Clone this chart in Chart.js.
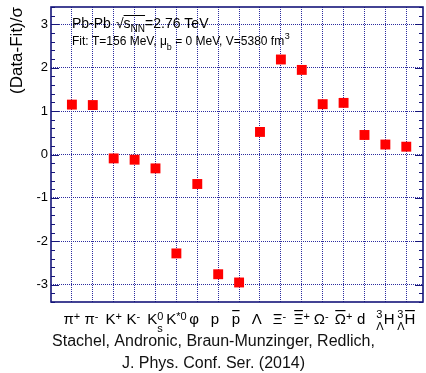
<!DOCTYPE html>
<html>
<head>
<meta charset="utf-8">
<title>Thermal fit deviations</title>
<script src="https://cdn.jsdelivr.net/npm/chart.js@4.4.0/dist/chart.umd.min.js"></script>
<style>
  html, body { margin: 0; padding: 0; background: #fff; overflow: hidden; }
  canvas { display: block; }
</style>
</head>
<body>
<canvas id="fitChart" width="430" height="375"></canvas>
<script>
// hadron species on the x axis (base symbol plus scripts and antiparticle bar)
const species       = ['π', 'π', 'K', 'K', 'K', 'K', 'φ', 'p', 'p', 'Λ', 'Ξ', 'Ξ', 'Ω', 'Ω', 'd', 'H', 'H'];
const speciesSup    = ['+', '-', '+', '-', '0', '*0', '', '', '', '', '-', '+', '-', '+', '', '', ''];
const speciesSub    = ['', '', '', '', 's', '', '', '', '', '', '', '', '', '', '', '', ''];
const speciesBar    = [false, false, false, false, false, false, false, false, true, false, false, true, false, true, false, false, true];
const speciesPreSup = ['', '', '', '', '', '', '', '', '', '', '', '', '', '', '', '3', '3'];
const speciesPreSub = ['', '', '', '', '', '', '', '', '', '', '', '', '', '', '', 'Λ', 'Λ'];

// (data - fit) / sigma for each species
const deviation = [1.15, 1.14, -0.09, -0.12, -0.32, -2.28, -0.68, -2.76, -2.95, 0.52, 2.19, 1.95, 1.16, 1.19, 0.45, 0.23, 0.18];

const yTicks = [-3, -2, -1, 0, 1, 2, 3];

const FAMILY = '"Liberation Sans", Arial, sans-serif';
const NAVY = '#15157a';
const GRID = '#2c2ca0';

function drawSpecies(ctx, i, cx, base) {
  const main = '15px ' + FAMILY;
  const small = '11px ' + FAMILY;
  ctx.font = small;
  const preW = Math.max(ctx.measureText(speciesPreSup[i]).width, ctx.measureText(speciesPreSub[i]).width);
  const slot = preW > 0 ? 0 : ctx.measureText('+').width;
  const postW = Math.max(ctx.measureText(speciesSup[i]).width, ctx.measureText(speciesSub[i]).width, slot);
  ctx.font = main;
  const baseW = ctx.measureText(species[i]).width;
  let left = cx - (preW + baseW + postW) / 2;

  ctx.font = small;
  ctx.fillText(speciesPreSup[i], left, base - 6);
  ctx.fillText(speciesPreSub[i], left, base + 6);
  left += preW;

  ctx.font = main;
  ctx.fillText(species[i], left, base);
  if (speciesBar[i]) ctx.fillRect(left + 0.5, base - 14, baseW - 1, 1.2);
  left += baseW;

  ctx.font = small;
  ctx.fillText(speciesSup[i], left, base - 4);
  ctx.fillText(speciesSub[i], left, base + 8);
}

const decorations = {
  id: 'decorations',
  afterDraw(chart) {
    const { ctx, chartArea: a, scales: { x, y } } = chart;
    ctx.save();

    // inward ticks on both vertical sides, minor every 0.2
    ctx.strokeStyle = NAVY;
    ctx.lineWidth = 1.2;
    ctx.beginPath();
    for (let k = Math.ceil(y.min * 5); k <= Math.floor(y.max * 5); k++) {
      const py = Math.round(y.getPixelForValue(k / 5)) + 0.5;
      const len = k % 5 === 0 ? 8 : 4;
      ctx.moveTo(a.left, py); ctx.lineTo(a.left + len, py);
      ctx.moveTo(a.right, py); ctx.lineTo(a.right - len, py);
    }
    ctx.stroke();

    // frame
    ctx.lineWidth = 1.6;
    ctx.strokeRect(a.left, a.top, a.right - a.left, a.bottom - a.top);

    // species labels under the axis
    ctx.fillStyle = '#000';
    ctx.textAlign = 'left';
    ctx.textBaseline = 'alphabetic';
    species.forEach((_, i) => drawSpecies(ctx, i, x.getPixelForValue(i + 1), a.bottom + 22));

    // system and fit parameters
    let tx = a.left + 21;
    let ty = a.top + 20.5;
    ctx.font = '14px ' + FAMILY;
    ctx.fillText('Pb-Pb', tx, ty);
    tx += ctx.measureText('Pb-Pb').width + 5;
    ctx.fillText('√', tx, ty);
    tx += ctx.measureText('√').width;
    const barStart = tx;
    ctx.fillText('s', tx, ty);
    tx += ctx.measureText('s').width;
    ctx.font = '10px ' + FAMILY;
    ctx.fillText('NN', tx, ty + 4);
    tx += ctx.measureText('NN').width;
    ctx.fillRect(barStart, ty - 12.5, tx - barStart, 1);
    ctx.font = '14px ' + FAMILY;
    ctx.fillText('=2.76 TeV', tx, ty);

    tx = a.left + 21;
    ty = a.top + 37.5;
    ctx.font = '12px ' + FAMILY;
    ctx.fillText('Fit: T=156 MeV, μ', tx, ty);
    tx += ctx.measureText('Fit: T=156 MeV, μ').width;
    ctx.font = '9px ' + FAMILY;
    ctx.fillText('b', tx, ty + 5);
    tx += ctx.measureText('b').width;
    ctx.font = '12px ' + FAMILY;
    ctx.fillText(' = 0 MeV, V=5380 fm', tx, ty);
    tx += ctx.measureText(' = 0 MeV, V=5380 fm').width;
    ctx.font = '9px ' + FAMILY;
    ctx.fillText('3', tx + 0.5, ty - 6);

    ctx.restore();
  }
};

// keep the plot frame exactly where the axes put it
function noPadding(s) {
  s.paddingTop = 0;
  s.paddingBottom = 0;
  s.paddingLeft = 0;
  s.paddingRight = 0;
}

const ctx = document.getElementById('fitChart').getContext('2d');
new Chart(ctx, {
  type: 'scatter',
  data: {
    datasets: [{
      data: deviation.map((v, i) => ({ x: i + 1, y: v })),
      pointStyle: 'rect',
      pointRadius: 7,
      pointHoverRadius: 7,
      backgroundColor: '#ff0000',
      borderWidth: 0
    }]
  },
  options: {
    responsive: false,
    animation: false,
    events: [],
    layout: { padding: { top: 6, right: 3, left: 0, bottom: 0 } },
    plugins: {
      legend: { display: false },
      tooltip: { enabled: false },
      title: {
        display: true,
        position: 'bottom',
        text: ['Stachel, Andronic, Braun-Munzinger, Redlich,', 'J. Phys. Conf. Ser. (2014)'],
        color: '#111',
        font: { family: FAMILY, size: 16, weight: 'normal', lineHeight: '22px' },
        padding: { top: 0, bottom: 0 }
      }
    },
    scales: {
      x: {
        type: 'linear',
        min: 0,
        max: 17.8,
        afterBuildTicks: s => { s.ticks = species.map((_, i) => ({ value: i + 1 })); },
        afterFit: s => { s.height = 29; noPadding(s); },
        ticks: { display: false },
        grid: { color: GRID, lineWidth: 1, drawTicks: false },
        border: { display: false, dash: [1, 1] }
      },
      y: {
        min: -3.4,
        max: 3.4,
        afterBuildTicks: s => { s.ticks = yTicks.map(v => ({ value: v })); },
        afterFit: s => { s.width = 51; noPadding(s); },
        ticks: { color: '#000', padding: 3, font: { family: FAMILY, size: 13 } },
        grid: { color: GRID, lineWidth: 1, drawTicks: false },
        border: { display: false, dash: [1, 1] },
        title: {
          display: true,
          text: '(Data-Fit)/σ',
          align: 'end',
          color: '#000',
          font: { family: FAMILY, size: 17 },
          padding: { top: 7, bottom: 0 }
        }
      }
    }
  },
  plugins: [decorations]
});
</script>
</body>
</html>
